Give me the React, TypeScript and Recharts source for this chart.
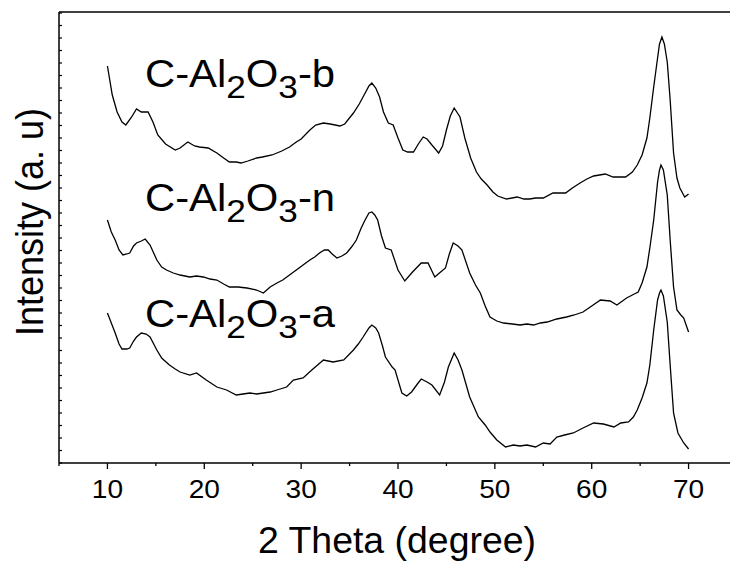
import React from "react";
import { LineChart, Line, XAxis, YAxis } from "recharts";

// 2-theta positions (deg) and relative intensities (a.u.)
const thetaB = [
  10, 10.5, 11, 11.5, 11.9, 12.5, 13, 13.5, 14.2, 14.7, 15.2, 16, 17, 17.5, 18.3, 19, 19.5, 20.4, 21.3, 22,
  22.6, 23.3, 23.8, 24.5, 25.4, 26, 27, 28, 28.8, 29.5, 30, 30.9, 31.5, 32.3, 33, 34, 34.5, 35.4, 36, 36.5,
  37, 37.3, 37.7, 38.1, 38.5, 39, 39.5, 40, 40.5, 41, 41.6, 42.1, 42.6, 43, 43.5, 44.2, 44.6, 45, 45.4, 45.8,
  46.4, 46.9, 47.5, 48.1, 48.6, 49.2, 49.8, 50.3, 51.2, 52.3, 53, 53.6, 54.2, 55, 56, 57.3, 58, 58.8, 59.5, 60.2,
  61.4, 62.2, 63.5, 64.2, 64.7, 65.2, 65.7, 66, 66.4, 66.8, 67, 67.25, 67.5, 67.8, 68.1, 68.45, 68.8, 69.1, 69.6, 70,
];
const intensityB = [
  397, 368, 351, 341, 338, 346, 354, 351, 351, 341, 328, 319, 313, 315, 321, 317, 316, 315, 310, 305,
  301, 301, 300, 302, 305, 306, 308, 312, 316, 321, 324, 333, 338, 340, 339, 337, 339, 350, 359, 368,
  377, 380, 375, 366, 351, 340, 338, 325, 313, 311, 311, 319, 326, 324, 318, 310, 317, 333, 347, 355,
  346, 325, 305, 291, 284, 278, 271, 267, 264, 266, 264, 264, 265, 265, 270, 270, 275, 280, 284, 287,
  289, 286, 286, 291, 298, 308, 325, 345, 376, 405, 419, 426, 419, 401, 363, 310, 285, 275, 266, 269,
];

const thetaN = [
  10, 10.4, 10.8, 11.2, 11.6, 12, 12.3, 12.7, 13, 13.5, 13.9, 14.4, 15.1, 15.6, 16.1, 16.8, 17.5, 18.5, 19.2, 19.9,
  20.6, 21.3, 22, 22.6, 23.5, 24.4, 25.4, 26.1, 26.8, 27.5, 28.1, 28.8, 29.5, 30.2, 30.9, 31.4, 31.9, 32.4, 32.8, 33.2,
  33.7, 34.2, 34.7, 35.2, 35.7, 36.2, 36.6, 37, 37.3, 37.6, 37.9, 38.3, 38.7, 39.3, 40, 40.7, 41.5, 42.4, 43.1, 43.8,
  44.4, 44.9, 45.3, 45.7, 46.2, 46.6, 47.4, 48, 48.5, 49, 49.5, 50.2, 50.9, 51.8, 52.6, 53.3, 54, 54.7, 55.4, 56.4,
  57.4, 58.2, 59.1, 60, 60.9, 61.9, 62.6, 63.6, 64.4, 64.8, 65.2, 65.7, 66, 66.4, 66.8, 67, 67.15, 67.4, 67.8, 68.1,
  68.45, 68.8, 69.2, 69.5, 70,
];
const intensityN = [
  243, 231, 223, 213, 208, 209, 210, 217, 220, 222, 224, 218, 203, 196, 193, 190, 188, 186, 187, 186,
  184, 183, 179, 176, 176, 175, 173, 170, 176, 180, 183, 188, 193, 198, 203, 206, 210, 213, 213, 209,
  205, 207, 210, 216, 223, 235, 243, 250, 251, 248, 243, 227, 215, 213, 193, 182, 191, 200, 200, 186,
  191, 195, 209, 220, 217, 213, 190, 178, 170, 157, 146, 142, 140, 139, 138, 139, 138, 140, 141, 144,
  146, 148, 151, 157, 163, 162, 158, 165, 169, 171, 180, 196, 215, 243, 281, 293, 298, 293, 268, 223,
  176, 153, 148, 145, 131,
];

const thetaA = [
  10, 10.4, 10.8, 11.2, 11.5, 12, 12.3, 12.7, 13, 13.5, 14, 14.4, 15.1, 15.6, 16.4, 17, 17.5, 18.5, 19.2, 20.2,
  21.3, 22.3, 23.3, 24, 24.7, 25.4, 26.1, 26.8, 27.5, 28.5, 29.2, 30.2, 31.1, 31.7, 32.3, 33.3, 34.4, 35.4, 35.9, 36.4,
  37, 37.3, 37.7, 38, 38.4, 38.7, 39.4, 39.7, 40.4, 40.9, 41.4, 42, 42.4, 43, 43.5, 44.3, 44.8, 45.2, 45.8, 46.2,
  46.6, 47.4, 48.3, 49, 49.5, 50.2, 51.1, 51.9, 52.6, 53.3, 54.2, 55, 55.7, 56.4, 57.2, 58.1, 59.1, 60.2, 61.2, 62.3,
  63, 63.8, 64.3, 64.7, 65.2, 65.7, 66, 66.4, 66.8, 67, 67.15, 67.4, 67.8, 68.1, 68.45, 68.9, 69.5, 70,
];
const intensityA = [
  150, 140, 130, 119, 114, 114, 115, 122, 126, 130, 129, 126, 113, 105, 98, 94, 91, 88, 90, 83,
  76, 73, 68, 69, 70, 69, 70, 71, 73, 76, 83, 85, 93, 98, 103, 101, 103, 113, 119, 126,
  135, 138, 135, 130, 117, 106, 96, 93, 70, 67, 71, 79, 84, 81, 78, 68, 81, 96, 110, 103,
  93, 66, 46, 38, 31, 23, 16, 18, 17, 18, 16, 20, 19, 26, 28, 30, 35, 40, 39, 36,
  40, 41, 46, 53, 65, 80, 98, 133, 163, 170, 173, 167, 141, 98, 50, 30, 20, 14,
];

const xTicks = [5, 10, 15, 20, 25, 30, 35, 40, 45, 50, 55, 60, 65, 70, 75];
const yTicks: number[] = [];
for (let v = 0; v <= 450; v += 12.5) yTicks.push(v);

const FONT = "'Liberation Sans', Arial, Helvetica, sans-serif";

const toPoints = (theta: number[], values: number[]) =>
  theta.map((t, i) => ({ theta: t, intensity: values[i] }));

const BottomTick = (props: any) => {
  const { x, y, payload } = props;
  const major = payload.value % 10 === 0;
  return (
    <g>
      <line x1={x} y1={y} x2={x} y2={y + (major ? 6 : 3)} stroke="#000" strokeWidth={1.3} />
      {major && (
        <text
          transform={`translate(${x},${y + 35}) scale(1.08,1)`}
          textAnchor="middle"
          fontFamily={FONT}
          fontSize={26}
          fill="#000"
        >
          {payload.value}
        </text>
      )}
    </g>
  );
};

const TopTick = (props: any) => {
  const { x, y } = props;
  return <line x1={x} y1={y} x2={x} y2={y + 3} stroke="#000" strokeWidth={1.2} />;
};

const LeftTick = (props: any) => {
  const { x, y } = props;
  return <line x1={x} y1={y} x2={x + 3} y2={y} stroke="#000" strokeWidth={1.2} />;
};

const SampleLabel = ({ x, y, suffix }: { x: number; y: number; suffix: string }) => (
  <text transform={`translate(${x},${y}) scale(1.1,1)`} fontFamily={FONT} fontSize={38} fill="#000">
    C-Al
    <tspan fontSize={32} dy={11}>2</tspan>
    <tspan dy={-11}>O</tspan>
    <tspan fontSize={32} dy={11}>3</tspan>
    <tspan dy={-11}>-{suffix}</tspan>
  </text>
);

export default function App() {
  return (
    <div
      style={{
        position: "fixed",
        left: 0,
        top: 0,
        width: 730,
        height: 562,
        overflow: "hidden",
        background: "#fff",
      }}
    >
      <div style={{ position: "absolute", left: 0, top: 0 }}>
        <LineChart width={760} height={562} margin={{ top: 12, right: 23, bottom: 0, left: 59 }}>
          <XAxis
            xAxisId="bottom"
            type="number"
            dataKey="theta"
            domain={[5, 75]}
            ticks={xTicks}
            interval={0}
            height={99}
            tickSize={0}
            tickMargin={0}
            tickLine={false}
            tick={BottomTick}
            axisLine={{ stroke: "#000", strokeWidth: 1.5 }}
            allowDataOverflow
          />
          <XAxis
            xAxisId="top"
            orientation="top"
            mirror
            type="number"
            dataKey="theta"
            domain={[5, 75]}
            ticks={xTicks}
            interval={0}
            tickSize={0}
            tickMargin={0}
            tickLine={false}
            tick={TopTick}
            axisLine={{ stroke: "#000", strokeWidth: 1.5 }}
          />
          <YAxis
            mirror
            type="number"
            domain={[0, 451]}
            ticks={yTicks}
            interval={0}
            tickSize={0}
            tickMargin={0}
            tickLine={false}
            tick={LeftTick}
            axisLine={{ stroke: "#000", strokeWidth: 1.5 }}
            allowDataOverflow
          />
          <Line
            xAxisId="bottom"
            data={toPoints(thetaB, intensityB)}
            dataKey="intensity"
            type="linear"
            stroke="#000"
            strokeWidth={1.3}
            dot={false}
            isAnimationActive={false}
          />
          <Line
            xAxisId="bottom"
            data={toPoints(thetaN, intensityN)}
            dataKey="intensity"
            type="linear"
            stroke="#000"
            strokeWidth={1.3}
            dot={false}
            isAnimationActive={false}
          />
          <Line
            xAxisId="bottom"
            data={toPoints(thetaA, intensityA)}
            dataKey="intensity"
            type="linear"
            stroke="#000"
            strokeWidth={1.3}
            dot={false}
            isAnimationActive={false}
          />
        </LineChart>
      </div>
      <svg
        width={730}
        height={562}
        style={{ position: "absolute", left: 0, top: 0, pointerEvents: "none" }}
      >
        <SampleLabel x={145} y={87} suffix="b" />
        <SampleLabel x={145} y={211} suffix="n" />
        <SampleLabel x={145} y={327} suffix="a" />
        <text
          transform="translate(397,553) scale(1.04,1)"
          textAnchor="middle"
          fontFamily={FONT}
          fontSize={36}
          fill="#000"
        >
          2 Theta (degree)
        </text>
        <text
          transform="translate(43,222) scale(1.1,1) rotate(-90)"
          textAnchor="middle"
          fontFamily={FONT}
          fontSize={36}
          fill="#000"
        >
          Intensity (a. u)
        </text>
      </svg>
    </div>
  );
}
